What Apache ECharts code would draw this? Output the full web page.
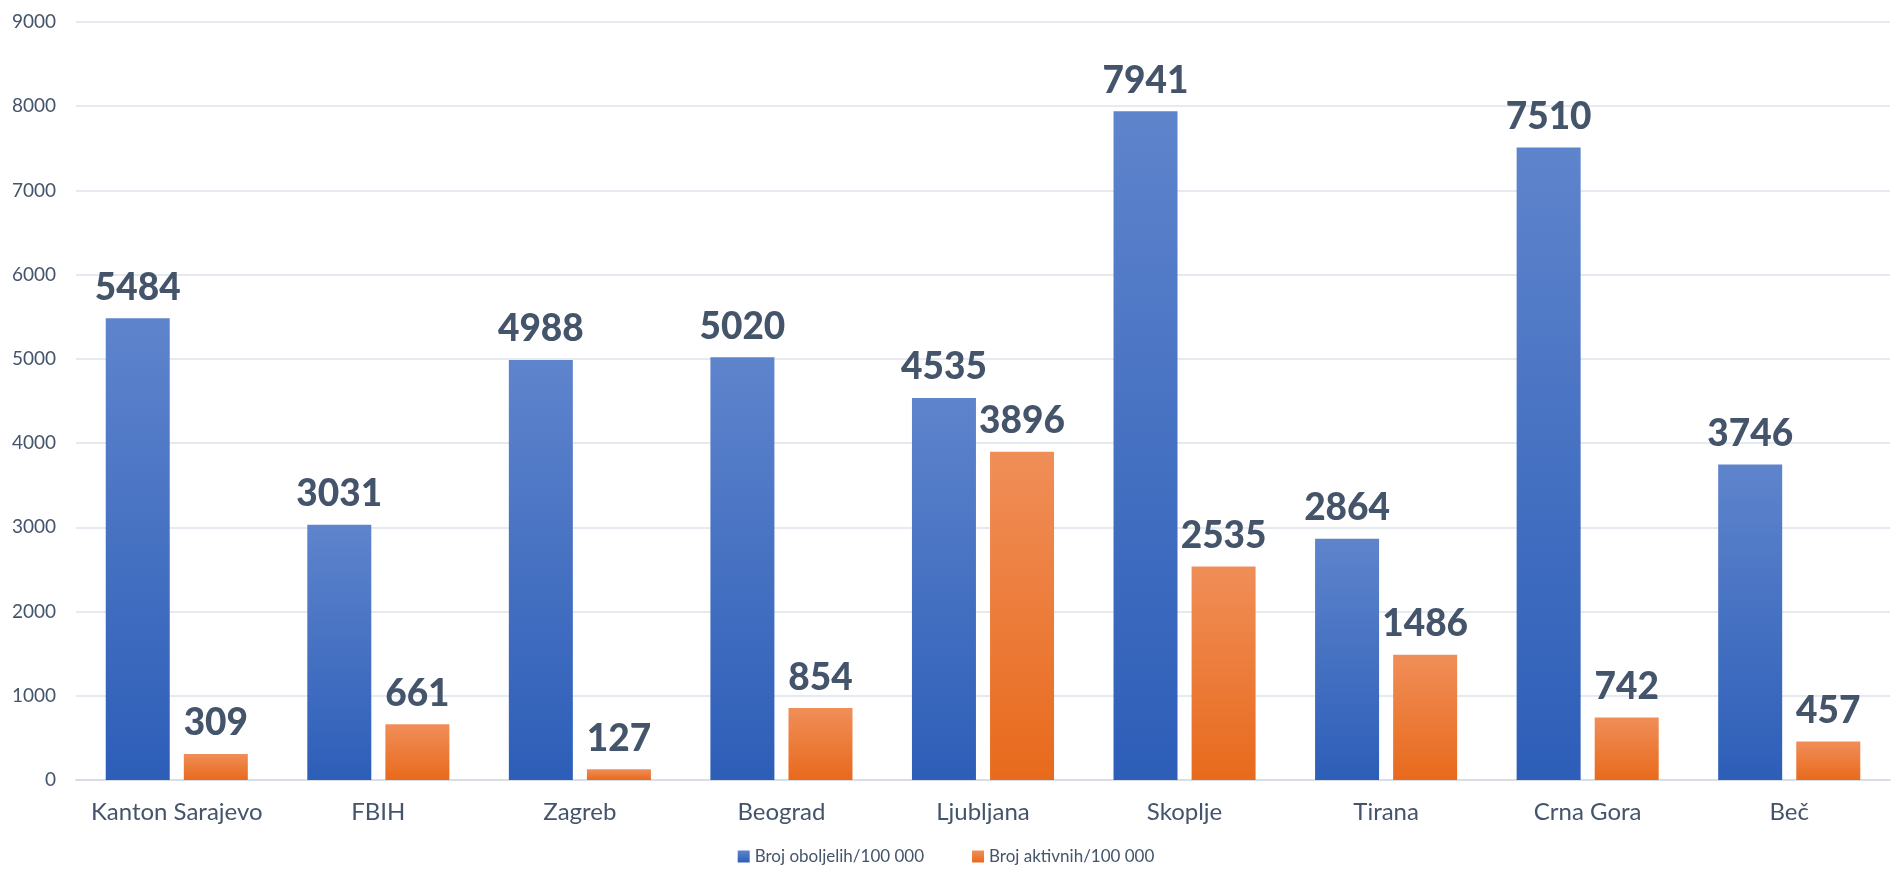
<!DOCTYPE html>
<html><head><meta charset="utf-8">
<script src="https://cdn.jsdelivr.net/npm/echarts@6/dist/echarts.min.js"></script>
<style>html,body{margin:0;padding:0;background:#fff}#c{width:1892px;height:872px}</style>
</head><body><div id="c"></div>
<script>
const categories = ['Kanton Sarajevo','FBIH','Zagreb','Beograd','Ljubljana','Skoplje','Tirana','Crna Gora','Beč'];
const oboljelih = [5484,3031,4988,5020,4535,7941,2864,7510,3746];
const aktivnih = [309,661,127,854,3896,2535,1486,742,457];
const seriesNames = ['Broj oboljelih/100 000','Broj aktivnih/100 000'];

const FONT = 'Lato, "Open Sans", sans-serif';
const TXT = '#44546A';
const chart = echarts.init(document.getElementById('c'));
function grad(top, bottom){
  return new echarts.graphic.LinearGradient(0,0,0,1,[{offset:0,color:top},{offset:1,color:bottom}]);
}
const lbl = {show:true, position:'top', distance:12, color:TXT, fontFamily:FONT, fontWeight:900, fontSize:37};
chart.setOption({
  animation:false,
  grid:{left:76, right:2, top:22, bottom:92, containLabel:false},
  legend:{bottom:2, left:'center', itemWidth:12, itemHeight:12, itemGap:48, icon:'rect',
    textStyle:{color:TXT, fontFamily:FONT, fontSize:17}, data:seriesNames},
  xAxis:{type:'category', data:categories,
    axisLine:{lineStyle:{color:'#D9DEE6', width:2}}, axisTick:{show:false},
    axisLabel:{color:TXT, fontFamily:FONT, fontSize:24, margin:20, interval:0}},
  yAxis:{type:'value', min:0, max:9000, interval:1000,
    splitLine:{lineStyle:{color:'#DDE3EC', width:1.5}},
    axisLabel:{color:TXT, fontFamily:FONT, fontSize:19, margin:20, formatter:v=>String(v)}},
  series:[
    {name:seriesNames[0], type:'bar', data:oboljelih, barWidth:64, barGap:'22%',
     itemStyle:{color:grad('#5E84CC','#2D5EB8')}, label:lbl},
    {name:seriesNames[1], type:'bar', data:aktivnih, barWidth:64,
     itemStyle:{color:grad('#F08E58','#E86A1C')}, label:lbl}
  ]
});
</script></body></html>
